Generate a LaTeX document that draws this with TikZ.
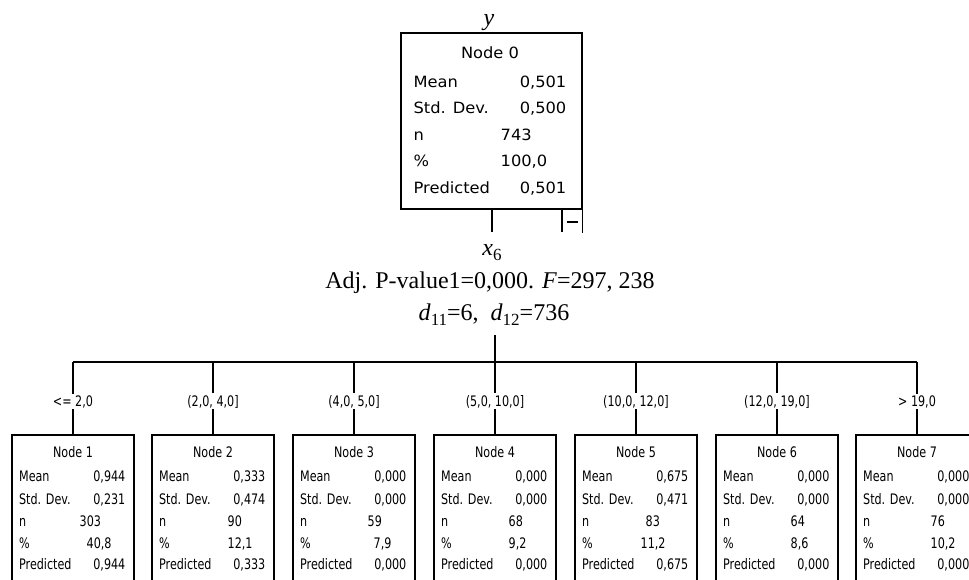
\documentclass[tikz,border=0pt]{standalone}
\usepackage{fontspec}
\usepackage{graphicx}
\setmainfont{Liberation Serif}
\newfontfamily\rootfont[FakeStretch=1.05]{DejaVu Sans}
\newfontfamily\kidfont[FakeStretch=0.77]{DejaVu Sans}
\newcommand\lowsub[1]{\raisebox{-0.22em}{\fontsize{17}{17}\selectfont #1}}
\begin{document}
\begin{tikzpicture}[x=1pt,y=-1pt,line width=1.3pt,
  rbox/.style={draw,line width=1.3pt,minimum width=181pt,minimum height=176pt,inner sep=0pt},
  kbox/.style={draw,line width=1.3pt,minimum width=122pt,minimum height=200pt,inner sep=0pt},
  rtxt/.style={inner sep=0pt,font=\rootfont\fontsize{15.5}{18}\selectfont},
  ktxt/.style={inner sep=0pt,font=\kidfont\fontsize{14.5}{17}\selectfont},
  lab/.style={fill=white,inner sep=1.5pt,anchor=base,font=\kidfont\fontsize{14.5}{17}\selectfont},
  stxt/.style={inner sep=0pt,anchor=base,font=\fontsize{24}{28}\selectfont}]
\clip (0,0) rectangle (969,579);
\fill[white] (0,0) rectangle (969,579);
% root
\node[rbox] (n0) at (491.5,121) {};
\node[stxt] (yv) at (489,25) {\textit{y}};
\node[rtxt,anchor=base] (h0) at (490,58) {Node 0};
\node[rtxt,anchor=base west] (a0) at (413,87) {Mean};
\node[rtxt,anchor=base east] (av0) at (567,87) {0,501};
\node[rtxt,anchor=base west] (b0) at (413,113.5) {Std. Dev.};
\node[rtxt,anchor=base east] (bv0) at (567,113.5) {0,500};
\node[rtxt,anchor=base west] (c0) at (413,140) {n};
\node[rtxt,anchor=base west] (cv0) at (500,140) {743};
\node[rtxt,anchor=base west] (d0) at (413,166.5) {\%};
\node[rtxt,anchor=base west] (dv0) at (500,166.5) {100,0};
\node[rtxt,anchor=base west] (e0) at (413,193) {Predicted};
\node[rtxt,anchor=base east] (ev0) at (567,193) {0,501};
% stub below root
\coordinate (stub) at (492,232);
\draw (stub |- n0.south) -- (stub);
\coordinate (mstub) at (562,232);
\draw (mstub |- n0.south) -- (mstub);
\draw (n0.south east) -- ++(0,23);
\draw[line width=2pt] (567,222) -- (578,222);
% split text
\node[stxt] (xv) at (492,255) {\textit{x}\lowsub{6}};
\node[stxt] (adj) at (490,288) {Adj. P-value1=0,000. \textit{F}=297, 238};
\node[stxt] (dd) at (494,320) {\textit{d}\lowsub{11}=6,\ \ \textit{d}\lowsub{12}=736};
\coordinate (s0) at (495,335);
\coordinate (hc) at (495,362);
\draw (s0) -- (hc);
% children
\foreach \i/\cx/\lab/\mean/\sd/\nn/\nx/\pc/\px/\pred in {
 1/73/{<= 2,0}/{0,944}/{0,231}/303/79/{40,8}/86/{0,944},
 2/213/{(2,0, 4,0]}/{0,333}/{0,474}/90/227/{12,1}/227/{0,333},
 3/354/{(4,0, 5,0]}/{0,000}/{0,000}/59/367/{7,9}/373/{0,000},
 4/495/{(5,0, 10,0]}/{0,000}/{0,000}/68/508/{9,2}/508/{0,000},
 5/636/{(10,0, 12,0]}/{0,675}/{0,471}/83/645/{11,2}/640/{0,675},
 6/777/{(12,0, 19,0]}/{0,000}/{0,000}/64/790/{8,6}/790/{0,000},
 7/917/{> 19,0}/{0,000}/{0,000}/76/930/{10,2}/930/{0,000}}
{
  \node[kbox] (k\i) at (\cx,535) {};
  \coordinate (t\i) at (\cx,362);
  \draw (t\i) -- (k\i.north);
  \node[lab] (l\i) at (\cx,406) {\lab};
  \node[ktxt,anchor=base] (h\i) at (\cx,457) {Node \i};
  \node[ktxt,anchor=base west] (a\i) at (\cx-54.5,481) {Mean};
  \node[ktxt,anchor=base east] (av\i) at (\cx+53,481) {\mean};
  \node[ktxt,anchor=base west] (b\i) at (\cx-54.5,504) {Std. Dev.};
  \node[ktxt,anchor=base east] (bv\i) at (\cx+53,504) {\sd};
  \node[ktxt,anchor=base west] (c\i) at (\cx-54.5,526) {n};
  \node[ktxt,anchor=base west] (cv\i) at (\nx,526) {\nn};
  \node[ktxt,anchor=base west] (d\i) at (\cx-54.5,548) {\%};
  \node[ktxt,anchor=base west] (dv\i) at (\px,548) {\pc};
  \node[ktxt,anchor=base west] (e\i) at (\cx-54.5,569) {Predicted};
  \node[ktxt,anchor=base east] (ev\i) at (\cx+53,569) {\pred};
}
\draw (t1) -- (t7);
\end{tikzpicture}
\end{document}
